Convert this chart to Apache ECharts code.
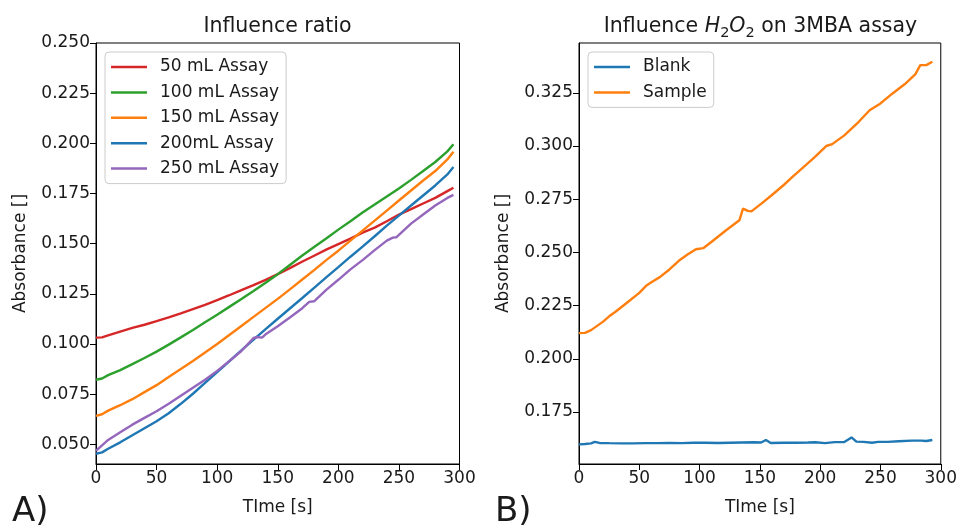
<!DOCTYPE html>
<html>
<head>
<meta charset="utf-8">
<script src="https://cdn.jsdelivr.net/npm/echarts@6/dist/echarts.min.js"></script>
<style>
html,body{margin:0;padding:0;background:#fff;}
#chart{width:960px;height:527px;}
</style>
</head>
<body>
<div id="chart"></div>
<script>
// ---------- Panel A data ----------
const timeA = [0,5,10,20,30,40,50,60,70,80,90,100,110,120,130,140,150,160,170,180,190,200,210,220,230,240,250,260,270,280,290,295];
const assay50 = [0.1032,0.1033,0.1043,0.1062,0.1080,0.1096,0.1114,0.1133,0.1153,0.1174,0.1195,0.1219,0.1243,0.1268,0.1293,0.1320,0.1348,0.1378,0.1410,0.1440,0.1470,0.1498,0.1525,0.1555,0.1580,0.1612,0.1645,0.1672,0.1700,0.1728,0.1762,0.1779];
const assay100 = [0.0822,0.0828,0.0845,0.0870,0.0900,0.0930,0.0962,0.0997,0.1033,0.1070,0.1108,0.1146,0.1185,0.1224,0.1264,0.1305,0.1348,0.1394,0.1440,0.1483,0.1526,0.1570,0.1612,0.1655,0.1695,0.1735,0.1775,0.1818,0.1862,0.1907,0.1960,0.1995];
const assay150 = [0.0642,0.0650,0.0668,0.0695,0.0725,0.0760,0.0795,0.0835,0.0875,0.0915,0.0958,0.1000,0.1045,0.1090,0.1135,0.1180,0.1225,0.1272,0.1320,0.1368,0.1418,0.1465,0.1515,0.1565,0.1615,0.1665,0.1715,0.1765,0.1815,0.1862,0.1920,0.1958];
const assay200 = [0.0453,0.0460,0.0478,0.0510,0.0545,0.0580,0.0615,0.0655,0.0702,0.0752,0.0806,0.0860,0.0914,0.0968,0.1022,0.1074,0.1126,0.1177,0.1228,0.1280,0.1332,0.1383,0.1435,0.1485,0.1537,0.1590,0.1640,0.1690,0.1740,0.1790,0.1845,0.1882];
const time250 = [0,5,10,20,30,40,50,60,70,80,90,100,110,120,130,133,137,140,150,160,170,176,180,190,200,210,220,230,240,245,248,260,270,280,290,295];
const assay250 = [0.0468,0.0495,0.0522,0.0560,0.0598,0.0632,0.0665,0.0702,0.0742,0.0782,0.0822,0.0866,0.0915,0.0965,0.1030,0.1035,0.1032,0.1048,0.1088,0.1132,0.1177,0.1210,0.1213,0.1270,0.1320,0.1372,0.1418,0.1468,0.1515,0.1530,0.1532,0.1600,0.1645,0.1690,0.1728,0.1743];
const namesA = ['50 mL Assay','100 mL Assay','150 mL Assay','200mL Assay','250 mL Assay'];
const ticksA = [0.050,0.075,0.100,0.125,0.150,0.175,0.200,0.225,0.250];

// ---------- Panel B data ----------
const timeSample = [0,5,10,15,20,25,30,40,50,56,60,67,75,83,90,97,103,110,122,133,136,140,143,152,160,170,177,185,195,205,210,220,232,241,250,260,270,279,283,288,293];
const sample = [0.2121,0.2122,0.2135,0.2155,0.2175,0.2200,0.2220,0.2265,0.2310,0.2345,0.2360,0.2384,0.2420,0.2462,0.2490,0.2515,0.2520,0.2550,0.2604,0.2651,0.2706,0.2695,0.2693,0.2733,0.2770,0.2818,0.2855,0.2895,0.2945,0.3000,0.3009,0.3050,0.3114,0.3168,0.3200,0.3247,0.3290,0.3338,0.3380,0.3380,0.3396];
const timeBlank = [0,5,10,13,17,25,35,45,55,65,75,85,95,105,115,125,135,145,151,155,159,170,180,190,196,204,212,220,226,230,236,243,248,256,265,276,284,288,293];
const blank = [0.1598,0.1600,0.1603,0.1610,0.1605,0.1604,0.1603,0.1603,0.1604,0.1604,0.1605,0.1604,0.1606,0.1606,0.1605,0.1606,0.1607,0.1608,0.1607,0.1619,0.1605,0.1606,0.1606,0.1607,0.1608,0.1604,0.1609,0.1609,0.1631,0.1611,0.1610,0.1606,0.1610,0.1610,0.1613,0.1616,0.1616,0.1614,0.1619];
const namesB = ['Blank','Sample'];
const ticksB = [0.175,0.200,0.225,0.250,0.275,0.300,0.325];

const FONT = 'DejaVu Sans';
const TXT = '#1a1a1a';
const zip = (t, v) => t.map((x, i) => [x, v[i]]);

function xAxisFor(grid) {
  return {
    type: 'value', gridIndex: grid, min: 0, max: 300, interval: 50,
    name: 'TIme [s]', nameLocation: 'middle', nameGap: 35,
    nameTextStyle: { fontFamily: FONT, fontSize: 17, color: TXT },
    axisLine: { show: true, onZero: false, lineStyle: { color: '#000', width: 1 } },
    axisTick: { show: true, inside: false, length: 6, lineStyle: { color: '#000' } },
    axisLabel: { fontFamily: FONT, fontSize: 17, color: TXT, margin: 6 },
    splitLine: { show: false }
  };
}
function yAxisFor(grid, min, max, ticks, gap) {
  return {
    type: 'value', gridIndex: grid, min: min, max: max,
    name: 'Absorbance []', nameLocation: 'middle', nameGap: gap, nameRotate: 90,
    nameTextStyle: { fontFamily: FONT, fontSize: 17, color: TXT },
    axisLine: { show: true, onZero: false, lineStyle: { color: '#000', width: 1 } },
    axisTick: { show: true, inside: false, length: 6, customValues: ticks, lineStyle: { color: '#000' } },
    axisLabel: { fontFamily: FONT, fontSize: 17, color: TXT, margin: 6, customValues: ticks,
      formatter: v => v.toFixed(3) },
    splitLine: { show: false }
  };
}

const colorsA = ['#d62728','#2ca02c','#ff7f0e','#1f77b4','#9467bd'];
const dataA = [zip(timeA, assay50), zip(timeA, assay100), zip(timeA, assay150), zip(timeA, assay200), zip(time250, assay250)];
const series = [];
namesA.forEach((n, i) => series.push({
  name: n, type: 'line', xAxisIndex: 0, yAxisIndex: 0, data: dataA[i],
  symbol: 'none', lineStyle: { width: 2.4, color: colorsA[i] }, itemStyle: { color: colorsA[i] },
  animation: false
}));
const colorsB = ['#1f77b4','#ff7f0e'];
const dataB = [zip(timeBlank, blank), zip(timeSample, sample)];
namesB.forEach((n, i) => series.push({
  name: n, type: 'line', xAxisIndex: 1, yAxisIndex: 1, data: dataB[i],
  symbol: 'none', lineStyle: { width: 2.4, color: colorsB[i] }, itemStyle: { color: colorsB[i] },
  animation: false
}));

const legendBase = {
  orient: 'vertical', icon: 'rect', itemWidth: 36, itemHeight: 2.5, itemGap: 7.4,
  backgroundColor: 'rgba(255,255,255,0.8)', borderColor: '#cccccc', borderWidth: 1, borderRadius: 4,
  textStyle: { fontFamily: FONT, fontSize: 17, color: TXT, padding: [0,0,0,8], lineHeight: 18 },
  selectedMode: false
};

const chart = echarts.init(document.getElementById('chart'), null, { renderer: 'canvas' });
chart.setOption({
  animation: false,
  backgroundColor: '#fff',
  grid: [
    { left: 96, top: 43, width: 363.5, height: 421, show: true, borderColor: '#000', borderWidth: 1, backgroundColor: 'transparent' },
    { left: 579, top: 43, width: 362.7, height: 421, show: true, borderColor: '#000', borderWidth: 1, backgroundColor: 'transparent' }
  ],
  xAxis: [xAxisFor(0), xAxisFor(1)],
  yAxis: [yAxisFor(0, 0.0402, 0.25, ticksA, 67), yAxisFor(1, 0.1506, 0.3484, ticksB, 67)],
  legend: [
    Object.assign({}, legendBase, { left: 105, top: 52, padding: [6, 7, 6, 6], data: namesA }),
    Object.assign({}, legendBase, { left: 588, top: 52, padding: [6, 7, 6, 6], data: namesB })
  ],
  graphic: [
    { type: 'text', x: 277.5, y: 27, style: { text: 'Influence ratio', fontFamily: FONT, fontSize: 20.5, fill: TXT, align: 'center', verticalAlign: 'middle' } },
    { type: 'text', x: 760.5, y: 27, style: {
        text: 'Influence {i|H}{s|2}{i|O}{s|2} on 3MBA assay',
        fontFamily: FONT, fontSize: 20.5, fill: TXT, align: 'center', verticalAlign: 'middle',
        rich: {
          i: { fontFamily: FONT, fontSize: 20.5, fontStyle: 'italic', fill: TXT },
          s: { fontFamily: FONT, fontSize: 14.5, fill: TXT, padding: [12, 0, 0, 0] }
        } } },
    { type: 'text', x: 12, y: 512, style: { text: 'A)', fontFamily: FONT, fontSize: 34, fill: TXT, align: 'left', verticalAlign: 'middle' } },
    { type: 'text', x: 495, y: 512, style: { text: 'B)', fontFamily: FONT, fontSize: 34, fill: TXT, align: 'left', verticalAlign: 'middle' } }
  ],
  series: series
});
</script>
</body>
</html>
